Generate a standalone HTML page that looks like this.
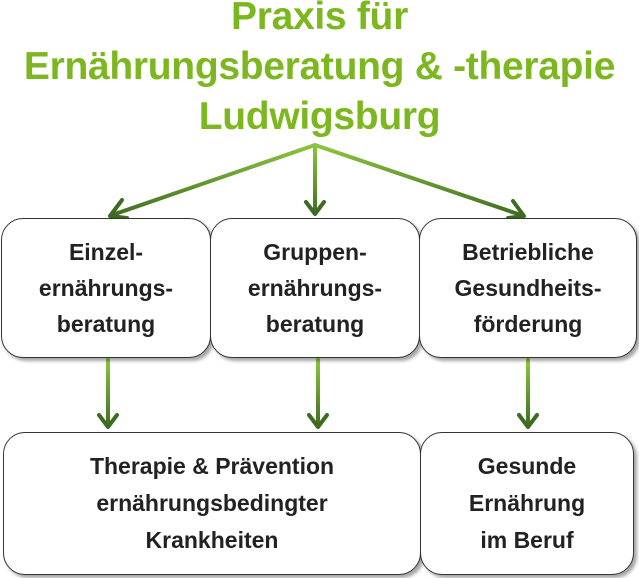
<!DOCTYPE html>
<html><head><meta charset="utf-8"><style>
body{margin:0;width:639px;height:578px;background:#fff;position:relative;overflow:hidden;font-family:"Liberation Sans",sans-serif;}
.t{position:absolute;left:-20px;width:679px;text-align:center;color:#7cb71f;font-weight:bold;font-size:39px;line-height:50px;top:-8px;letter-spacing:-0.3px;}
.b{position:absolute;border:1.5px solid #333;border-radius:22px;background:#fff;box-shadow:3px 3px 3px rgba(0,0,0,.35);display:flex;align-items:center;justify-content:center;text-align:center;font-weight:bold;font-size:23px;line-height:36px;color:#222;box-sizing:border-box;}
svg{position:absolute;left:0;top:0;}
</style></head><body>
<div class="t">Praxis für<br>Ernährungsberatung &amp; -therapie<br>Ludwigsburg</div>
<svg width="639" height="578">
<defs>
<linearGradient id="g2" gradientUnits="userSpaceOnUse" x1="0" y1="145" x2="0" y2="218"><stop offset="0" stop-color="#8cc63f"/><stop offset="1" stop-color="#3d6b22"/></linearGradient>
<linearGradient id="g3" gradientUnits="userSpaceOnUse" x1="0" y1="360" x2="0" y2="428"><stop offset="0" stop-color="#8cc63f"/><stop offset="1" stop-color="#3d6b22"/></linearGradient></defs>
<g stroke="url(#g2)" stroke-width="4" fill="none" stroke-linecap="round" stroke-linejoin="round">
<line x1="315" y1="145" x2="112" y2="215"/><polyline points="122,200 110,216 127,218" stroke="#3d6b22"/>
<line x1="315" y1="145" x2="315" y2="213"/><polyline points="306,202 315,214 324,202" stroke="#3d6b22"/>
<line x1="315" y1="145" x2="521" y2="215"/><polyline points="508,218 524,216 513,201" stroke="#3d6b22"/>
</g>
<g stroke-width="4" fill="none" stroke-linecap="round" stroke-linejoin="round">
<line x1="108" y1="360" x2="108" y2="426" stroke="url(#g3)"/><polyline points="99,415 108,427 117,415" stroke="#3d6b22"/>
<line x1="318" y1="360" x2="318" y2="426" stroke="url(#g3)"/><polyline points="309,415 318,427 327,415" stroke="#3d6b22"/>
<line x1="528" y1="360" x2="528" y2="426" stroke="url(#g3)"/><polyline points="519,415 528,427 537,415" stroke="#3d6b22"/>
</g>
</svg>
<div class="b" style="left:1px;top:218px;width:210px;height:140px">Einzel-<br>ernährungs-<br>beratung</div>
<div class="b" style="left:210px;top:218px;width:210px;height:140px">Gruppen-<br>ernährungs-<br>beratung</div>
<div class="b" style="left:419px;top:218px;width:218px;height:140px">Betriebliche<br>Gesundheits-<br>förderung</div>
<div class="b" style="left:3px;top:432px;width:418px;height:143px;line-height:37px">Therapie &amp; Prävention<br>ernährungsbedingter<br>Krankheiten</div>
<div class="b" style="left:420px;top:432px;width:214px;height:143px;line-height:37px">Gesunde<br>Ernährung<br>im Beruf</div>
</body></html>
